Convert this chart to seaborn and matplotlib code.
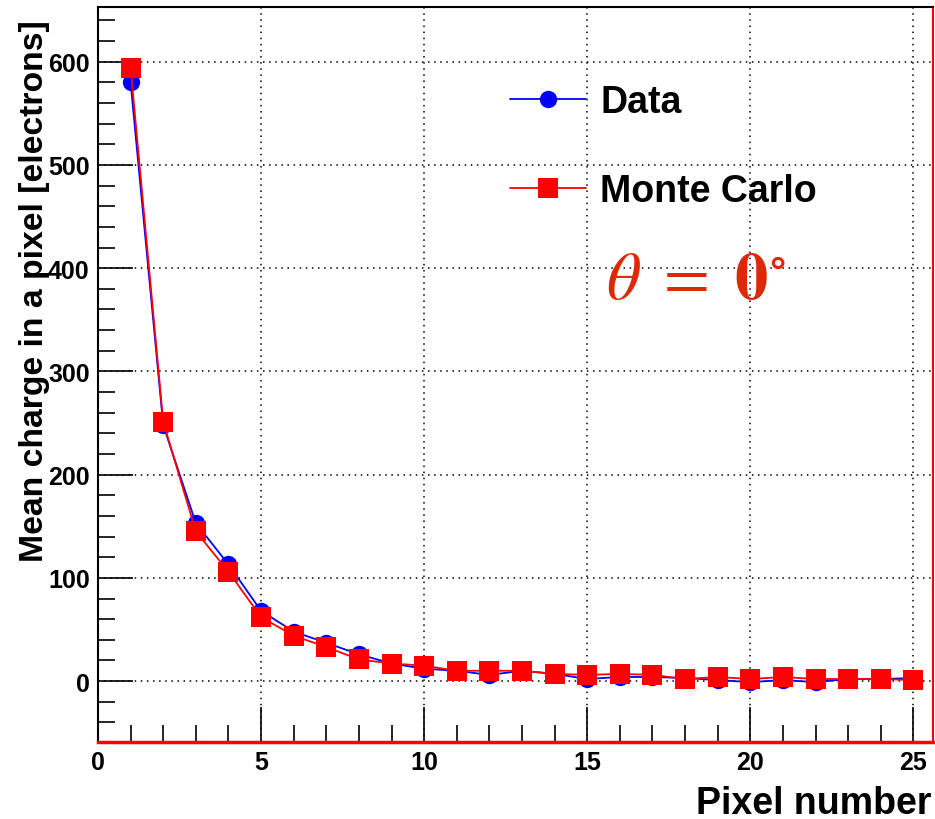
import numpy as np
import pandas as pd
import matplotlib
matplotlib.use("Agg")
import matplotlib.pyplot as plt
from matplotlib.ticker import MultipleLocator
from matplotlib.lines import Line2D
import seaborn as sns

# Mean charge per pixel vs pixel number, measured data and simulation
pixel = list(range(1, 26))
data_charge = [580, 248, 153, 113, 68, 48, 37, 26, 17, 12,
               10, 6, 10, 7, 2, 4, 4, 3, 1, -1,
               1, -1, 2, 2, 3]
mc_charge = [594, 251, 145, 106, 62, 44, 33, 21, 17, 15,
             10, 10, 10, 7, 6, 7, 6, 2, 4, 2,
             4, 2, 2, 2, 1]
series_names = ["Data", "Monte Carlo"]

df = pd.DataFrame({
    "pixel": pixel * 2,
    "charge": data_charge + mc_charge,
    "series": [series_names[0]] * len(pixel) + [series_names[1]] * len(pixel),
})

sns.set_style("white")
plt.rcParams["font.family"] = ["Liberation Sans", "DejaVu Sans"]
plt.rcParams["mathtext.fontset"] = "stix"
plt.rcParams["text.color"] = "black"
plt.rcParams["axes.labelcolor"] = "black"
plt.rcParams["xtick.color"] = "black"
plt.rcParams["ytick.color"] = "black"

fig = plt.figure(figsize=(9.35, 8.20), dpi=100)
ax = fig.add_axes([0.1048, 0.0939, 0.893, 0.8963])

sns.lineplot(
    data=df, x="pixel", y="charge", hue="series", style="series",
    palette={"Data": "#0000ff", "Monte Carlo": "#ff0000"},
    markers={"Data": "o", "Monte Carlo": "s"},
    dashes=False, linewidth=1.3, markeredgewidth=0,
    ax=ax, legend=False, sort=False,
)
for line, ms in zip(ax.get_lines(), [12.5, 14]):
    line.set_markersize(ms)

ax.set_xlim(0, 25.6)
ax.set_ylim(-59, 653)

ax.xaxis.set_major_locator(MultipleLocator(5))
ax.xaxis.set_minor_locator(MultipleLocator(1))
ax.yaxis.set_major_locator(MultipleLocator(100))
ax.yaxis.set_minor_locator(MultipleLocator(20))
ax.tick_params(which="major", direction="in", length=25, width=1.2,
               labelsize=18, colors="black", pad=6)
ax.tick_params(which="minor", direction="in", length=12, width=1.2)
ax.tick_params(axis="both", which="both", bottom=True, left=True,
               top=False, right=False)
for lab in ax.get_xticklabels() + ax.get_yticklabels():
    lab.set_fontweight("bold")

ax.grid(True, which="major", linestyle=(0, (1, 3)), color="black", linewidth=1.1)

for side in ["left", "top"]:
    ax.spines[side].set_color("black")
    ax.spines[side].set_linewidth(1.5)
ax.spines["right"].set_color("#ff0000")
ax.spines["right"].set_linewidth(1.5)
ax.spines["bottom"].set_color("#ff0000")
ax.spines["bottom"].set_linewidth(2.5)

ax.set_xlabel("Pixel number", fontsize=27, fontweight="bold", loc="right",
              color="black")
ax.set_ylabel("Mean charge in a pixel [electrons]", fontsize=24.3,
              fontweight="bold", loc="top", color="black")
ax.xaxis.set_label_coords(0.998, -0.058)
ax.yaxis.set_label_coords(-0.058, 0.984)

handles = [
    Line2D([], [], color="#0000ff", marker="o", markersize=12.5, lw=1.3,
           markeredgewidth=0),
    Line2D([], [], color="#ff0000", marker="s", markersize=14, lw=1.3,
           markeredgewidth=0),
]
leg = ax.legend(handles, series_names, loc="center left",
                bbox_to_anchor=(0.493, 0.810), frameon=False,
                borderaxespad=0, borderpad=0,
                prop={"weight": "bold", "size": 27}, handlelength=2.05,
                labelspacing=1.4, handletextpad=0.37, labelcolor="black")

ax.text(0.608, 0.627, r"$\theta\ =\ \mathbf{0}^{\circ}$", transform=ax.transAxes,
        fontsize=48, color="#dc2a08", ha="left", va="center")

fig.savefig("out.png", dpi=100)
